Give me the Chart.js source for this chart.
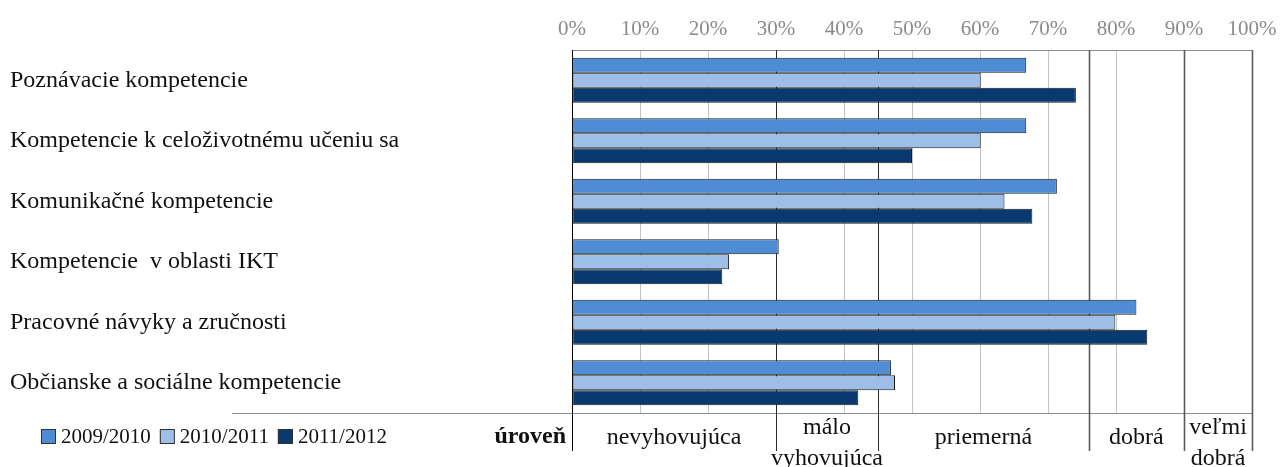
<!DOCTYPE html>
<html>
<head>
<meta charset="utf-8">
<script src="https://cdn.jsdelivr.net/npm/chart.js@4.4.1/dist/chart.umd.min.js"></script>
<style>
  html, body { margin: 0; padding: 0; background: #fff; }
  #wrap { width: 1281px; height: 467px; position: relative; }
</style>
</head>
<body>
<div id="wrap"><canvas id="c" width="1281" height="467"></canvas></div>
<script>
// data (percent)
const categories = [
  'Poznávacie kompetencie',
  'Kompetencie k celoživotnému učeniu sa',
  'Komunikačné kompetencie',
  'Kompetencie  v oblasti IKT',
  'Pracovné návyky a zručnosti',
  'Občianske a sociálne kompetencie'
];
const seriesNames = ['2009/2010', '2010/2011', '2011/2012'];
const v0910 = [66.8, 66.8, 71.3, 30.4, 83.0, 46.9];
const v1011 = [60.1, 60.1, 63.6, 23.1, 79.9, 47.5];
const v1112 = [74.1, 50.0, 67.7, 22.1, 84.6, 42.1];
const colors = ['#508cd4', '#9dbee7', '#083a70'];
const xTicks = [0, 10, 20, 30, 40, 50, 60, 70, 80, 90, 100];

// rating bands (úroveň)
const bandEdges = [0, 30, 45, 76, 90, 100];
const bandNames = [['nevyhovujúca'], ['málo', 'vyhovujúca'], ['priemerná'], ['dobrá'], ['veľmi', 'dobrá']];
const levelTitle = 'úroveň';

const FONT = "'Liberation Serif', serif";

const bandPlugin = {
  id: 'bands',
  // lines go under the bars
  beforeDatasetsDraw(chart) {
    const ctx = chart.ctx, a = chart.chartArea, x = chart.scales.x;
    ctx.save();
    ctx.strokeStyle = '#8c8c8c'; ctx.lineWidth = 1;
    ctx.beginPath(); ctx.moveTo(a.left, a.top + 0.5); ctx.lineTo(a.right, a.top + 0.5); ctx.stroke();
    ctx.beginPath(); ctx.moveTo(232, a.bottom + 0.5); ctx.lineTo(a.right, a.bottom + 0.5); ctx.stroke();
    bandEdges.forEach((e, i) => {
      const px = Math.round(x.getPixelForValue(e));
      const strong = e >= 76;
      ctx.strokeStyle = i === 0 ? '#000' : (strong ? '#5a5a5a' : '#2a2a2a');
      ctx.lineWidth = strong ? 1.6 : 1;
      ctx.beginPath(); ctx.moveTo(px + 0.5, a.top); ctx.lineTo(px + 0.5, a.bottom + 38); ctx.stroke();
    });
    ctx.restore();
  },
  afterDraw(chart) {
    const ctx = chart.ctx, a = chart.chartArea, x = chart.scales.x;
    ctx.save();
    // band names
    ctx.fillStyle = '#111';
    ctx.font = '24px ' + FONT;
    ctx.textAlign = 'center'; ctx.textBaseline = 'middle';
    bandNames.forEach((lines, i) => {
      const cx = (x.getPixelForValue(bandEdges[i]) + x.getPixelForValue(bandEdges[i + 1])) / 2;
      if (lines.length === 1) ctx.fillText(lines[0], cx, a.bottom + 25);
      else { ctx.fillText(lines[0], cx, a.bottom + 15); ctx.fillText(lines[1], cx, a.bottom + 46); }
    });
    // legend
    ctx.textAlign = 'left';
    ctx.font = '21px ' + FONT;
    let lx = 41;
    const ly = a.bottom + 24;
    chart.data.datasets.forEach(ds => {
      ctx.fillStyle = ds.backgroundColor;
      ctx.fillRect(lx, ly - 8, 15, 15);
      ctx.strokeStyle = '#333'; ctx.lineWidth = 1;
      ctx.strokeRect(lx + 0.5, ly - 7.5, 14, 14);
      ctx.fillStyle = '#111';
      ctx.fillText(ds.label, lx + 20, ly);
      lx += 20 + ctx.measureText(ds.label).width + 9;
    });
    ctx.font = 'bold 24px ' + FONT;
    ctx.textAlign = 'right';
    ctx.fillText(levelTitle, x.getPixelForValue(0) - 6, ly);
    ctx.restore();
  }
};

new Chart(document.getElementById('c'), {
  type: 'bar',
  data: {
    labels: categories,
    datasets: [
      { label: seriesNames[0], data: v0910, backgroundColor: colors[0] },
      { label: seriesNames[1], data: v1011, backgroundColor: colors[1] },
      { label: seriesNames[2], data: v1112, backgroundColor: colors[2] }
    ].map(d => Object.assign(d, { borderColor: '#1b1b1b', borderWidth: 1, borderSkipped: false, barPercentage: 1, categoryPercentage: 0.745 }))
  },
  options: {
    indexAxis: 'y',
    responsive: false,
    animation: false,
    devicePixelRatio: 1,
    layout: { padding: { left: 10, right: 29, top: 0, bottom: 54 } },
    plugins: { legend: { display: false }, tooltip: { enabled: false } },
    scales: {
      x: {
        position: 'top', min: 0, max: 100,
        afterBuildTicks: s => { s.ticks = xTicks.map(v => ({ value: v })); },
        afterFit: s => { s.height = 50; s.paddingLeft = 0; s.paddingRight = 0; },
        grid: { color: '#c4c4c4', drawTicks: false, lineWidth: 1 },
        border: { display: false },
        ticks: { color: '#8a8a8a', padding: 8, font: { family: FONT, size: 21 }, callback: v => v + '%' }
      },
      y: {
        afterFit: s => { s.width = 562; },
        grid: { display: false },
        border: { display: false },
        ticks: { crossAlign: 'far', color: '#111', font: { family: FONT, size: 24 } }
      }
    }
  },
  plugins: [bandPlugin]
});
</script>
</body>
</html>
